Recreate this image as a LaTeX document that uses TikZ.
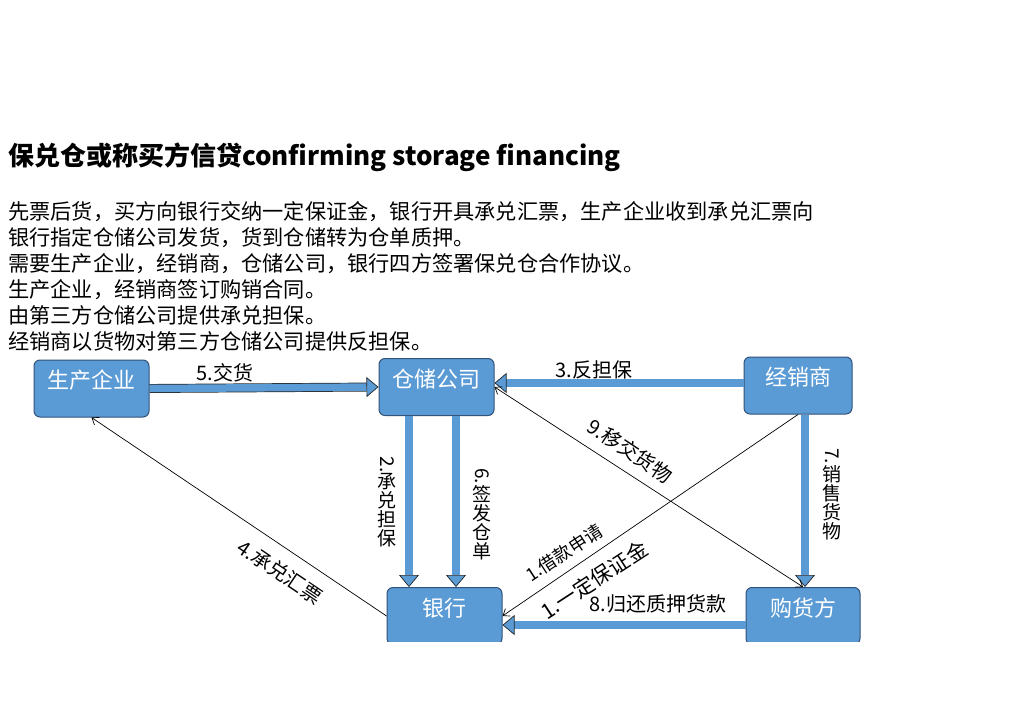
\documentclass[tikz,border=0pt]{standalone}
\usepackage{fontspec}
\setmainfont{Noto Sans CJK SC}
\usetikzlibrary{arrows.meta,calc}
\definecolor{boxblue}{RGB}{91,155,213}
\definecolor{boxline}{RGB}{49,82,122}

\begin{document}
\begin{tikzpicture}[x=1pt,y=-1pt,
	box/.style={draw=boxline,line width=1pt,fill=boxblue,rounded corners=6pt,text=white,
		font=\fontsize{22}{22}\selectfont,text height=16pt,text depth=16pt,inner sep=0pt,
		minimum width=115pt,minimum height=57pt},
	fat/.style={draw=black!85,line width=0.7pt,double=boxblue,double distance=7.5pt,
		-{Triangle[length=12pt,width=20pt,fill=boxblue]}},
	link/.style={draw=black,line width=0.7pt,>={Straight Barb[length=6pt,width=9pt]}},
	lab/.style={font=\fontsize{20}{20}\selectfont,inner sep=0pt},
	vlab/.style={font=\fontsize{19}{19}\selectfont,align=center,inner sep=0pt}]
	\fill[white] (0,0) rectangle (1024,708);
	\useasboundingbox (0,0) rectangle (1024,708);
	% title and text
	\node[anchor=base west,inner sep=0pt,font=\fontsize{26}{26}\selectfont\bfseries] (title) at (8,166) {保兑仓或称买方信贷confirming storage financing};
	\foreach \t [count=\i] in {先票后货，买方向银行交纳一定保证金，银行开具承兑汇票，生产企业收到承兑汇票向,
		银行指定仓储公司发货，货到仓储转为仓单质押。,
		需要生产企业，经销商，仓储公司，银行四方签署保兑仓合作协议。,
		生产企业，经销商签订购销合同。,
		由第三方仓储公司提供承兑担保。,
		经销商以货物对第三方仓储公司提供反担保。}
		\node[anchor=base west,inner sep=0pt,font=\fontsize{21.2}{21.2}\selectfont] at (8,{220+25.8*(\i-1)}) {\t};
	\begin{scope}
		\clip (0,0) rectangle (1024,641);
		% boxes
		\node[box] (prod) at (91.5,388.5) {生产企业};
		\node[box] (store) at (436.5,387) {仓储公司};
		\node[box,minimum width=108pt] (dist) at (798,385.5) {经销商};
		\node[box] (bank) at (444.5,616) {银行};
		\node[box,minimum width=114pt] (buyer) at (803,616) {购货方};
		% block arrows
		\draw[fat] (prod.east) -- (store.west);
		\draw[fat] ([yshift=2.5pt]dist.west) -- ([yshift=2.5pt]dist.west -| store.east);
		\draw[fat] ([xshift=-27.5pt]store.south) -- ([xshift=-27.5pt]store.south |- bank.north);
		\draw[fat] ([xshift=19.5pt]store.south) -- ([xshift=19.5pt]store.south |- bank.north);
		\draw[fat] ([xshift=7pt]dist.south) -- ([xshift=7pt]dist.south |- buyer.north);
		\draw[fat] ([yshift=-9pt]buyer.west) -- ([yshift=-9pt]buyer.west -| bank.east);
		% thin arrows
		\draw[link,->] (bank.west) -- (prod.south);
		\draw[link,<->] (store.east) -- (buyer.north);
		\draw[link,->] (dist.south) -- (bank.east);
	\end{scope}
	% labels
	\node[lab] at (225,373) {5.交货};
	\node[lab] at (594,370) {3.反担保};
	\node[lab] at (658,604) {8.归还质押货款};
	\node[vlab] at (387,502) {\rotatebox{-90}{2.}\\承\\兑\\担\\保};
	\node[vlab] at (482,514) {\rotatebox{-90}{6.}\\签\\发\\仓\\单};
	\node[vlab] at (832,494) {\rotatebox{-90}{7.}\\销\\售\\货\\物};
	\node[lab,rotate=-34] at (280,572) {4.承兑汇票};
	\node[lab,rotate=-33.5] at (630,451) {9.移交货物};
	\node[lab,rotate=33,font=\fontsize{18}{18}\selectfont] at (564,553) {1.借款申请};
	\node[lab,rotate=33,font=\fontsize{21}{21}\selectfont] at (594,580) {1.一定保证金};
\end{tikzpicture}
\end{document}
